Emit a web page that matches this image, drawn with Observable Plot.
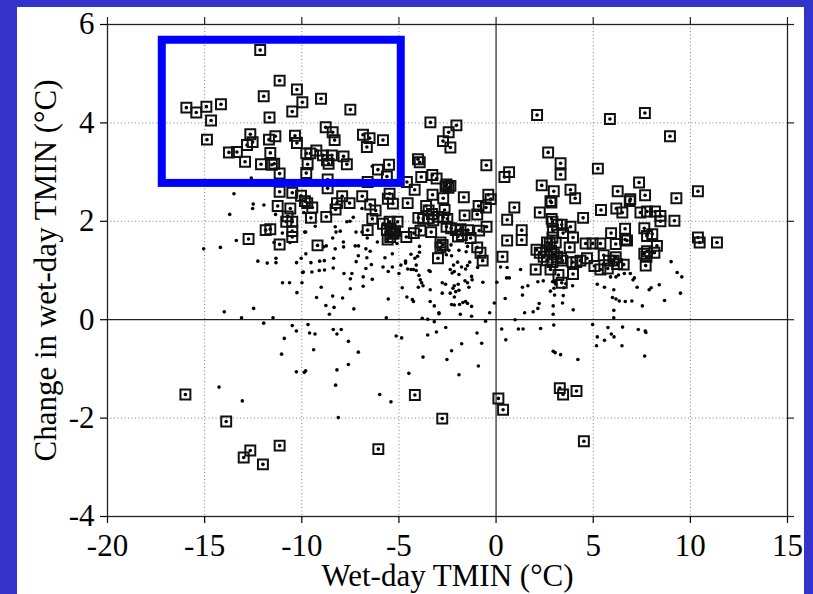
<!DOCTYPE html>
<html>
<head>
<meta charset="utf-8">
<script src="https://cdn.jsdelivr.net/npm/d3@7"></script>
<script src="https://cdn.jsdelivr.net/npm/@observablehq/plot@0.6"></script>
<style>
  html, body { margin: 0; padding: 0; background: #3333cc; overflow: hidden; }
  #panel { position: absolute; left: 17px; top: 7px; width: 787px; height: 587px; background: #ffffff; }
  #panel svg text { font-family: 'Liberation Serif', 'Times New Roman', serif; }
</style>
</head>
<body>
<div id="panel"></div>
<script>
// Axis ticks
const xTicks = [-20, -15, -10, -5, 0, 5, 10, 15];
const yTicks = [-4, -2, 0, 2, 4, 6];
const xGrid = [-15, -10, -5, 5, 10];
const yGrid = [-2, 2, 4];

// Highlight box (data units)
const boxBounds = [{x1: -17.18, x2: -4.88, y1: 2.77, y2: 5.68}];

// Stations flagged with a square [wet-day TMIN, change in wet-day TMIN]
const flagged = [
[-12.14,5.48],[-15.94,4.31],[-15.43,4.21],[-14.91,4.33],[-14.16,4.38],[-14.67,4.05],[-14.88,3.66],[-11.14,4.86],[-11.96,4.54],[-10.25,4.68],
[-9.97,4.42],[-10.49,4.23],[-11.66,4.11],[-9.01,4.49],[-7.5,4.27],[-12.65,3.77],[-12.53,3.61],[-12.82,3.55],[-11.69,3.66],[-11.36,3.73],
[-10.35,3.74],[-10.25,3.59],[-13.75,3.40],[-13.34,3.41],[-12.92,3.21],[-11.62,3.39],[-12.10,3.16],[-11.54,3.15],[-11.42,3.17],[-11.14,2.97],
[-9.77,3.38],[-9.56,3.38],[-9.25,3.44],[-9.70,3.16],[-9.77,2.98],[-8.77,3.91],[-8.41,3.81],[-8.31,3.65],[-8.91,3.34],[-8.70,3.24],
[-8.45,3.34],[-8.62,3.17],[-7.85,3.32],[-7.68,3.16],[-6.85,3.76],[-6.51,3.69],[-6.65,3.51],[-5.82,3.65],[-6.08,3.05],[-5.51,3.15],[-5.62,2.91],
[-8.67,2.85],[-11.14,2.60],[-10.49,2.58],[-10.04,2.52],[-9.84,2.41],[-7.92,2.51],[-7.54,2.37],[-8.19,2.37],[-8.26,2.24],[-6.89,2.51],
[-8.67,2.67],[-11.24,2.31],[-10.59,2.26],[-9.46,2.28],[-9.53,2.07],[-8.74,2.09],[-10.73,2.10],[-10.80,1.99],[-11.86,1.82],[-11.62,1.84],
[-10.49,1.99],[-10.49,1.80],[-10.49,1.68],[-11.14,1.53],[-12.74,1.64],[-9.19,1.51],[-6.61,1.82],[-6.48,2.34],[-6.20,2.22],[-6.37,2.05],
[-5.82,1.95],[-5.62,1.82],[-5.48,1.99],[-5.07,1.99],[-5.27,1.75],[-5.58,1.63],[-5.48,2.56],[-5.57,2.46],[-5.31,2.36],[-4.55,2.37],
[-4.59,2.80],[-4.62,1.68],[-6.61,2.80],
[-4.02,3.26],[-3.85,2.90],[-3.28,2.94],[-3.06,2.87],[-2.6,2.71],[-2.45,2.68],[-2.55,2.75],[-2.35,2.72],[-4.19,2.64],[-3.27,2.54],
[-2.72,2.47],[-1.66,2.49],[-0.40,2.54],[-0.28,2.45],[-0.52,2.28],[-0.90,2.31],[-0.97,2.14],[-1.62,2.12],[-2.65,2.23],[-3.6,2.31],
[-3.47,2.22],[-3.3,2.15],[-4.0,2.07],[-3.75,2.05],[-3.47,2.06],[-3.23,2.02],[-3.0,2.09],[-2.72,2.08],[-2.51,2.05],[-2.55,1.89],
[-2.31,1.86],[-2.07,1.82],[-1.83,1.84],[-1.45,1.82],[-0.87,1.81],[-0.49,1.89],[-1.96,1.69],[-1.76,1.72],[-1.31,1.66],[-0.97,1.47],
[-0.80,1.36],[-0.69,1.2],[-3.34,1.78],[-3.89,1.81],[-4.23,1.76],[-2.86,1.57],[-2.86,1.47],[-2.99,1.25],[-2.75,1.52],[-9.72,2.37],
[-5.43,1.85],[-5.35,1.75],[-5.2,1.8],[-5.45,1.68],
[-3.38,4.01],[-2.04,3.95],[-2.44,3.81],[-2.73,3.63],[-2.35,3.50],[-3.93,3.2],[-0.5,3.14],[2.11,4.16],[5.86,4.08],[7.66,4.2],
[8.95,3.73],[2.68,3.40],[3.32,3.18],[3.32,2.95],[5.24,3.07],[0.67,3.0],[0.43,2.9],
[2.35,2.73],[2.97,2.61],[3.83,2.64],[4.07,2.47],[2.80,2.41],[2.85,2.38],[2.25,2.18],[0.94,2.28],[0.57,2.03],[2.86,2.05],
[2.90,1.99],[2.93,1.81],[3.14,1.93],[3.38,1.93],[3.45,1.76],[3.83,1.89],[3.96,1.67],[3.79,1.47],[4.48,2.07],[2.9,1.67],
[2.62,1.57],[2.76,1.55],[3.07,1.57],[2.59,1.41],[2.83,1.40],[2.97,1.33],[3.14,1.28],[2.25,1.36],[2.45,1.28],[2.62,1.21],
[2.90,1.17],[2.08,1.42],[2.04,1.02],[3.34,1.25],[3.41,1.2],[3.93,1.17],[4.13,1.17],[3.96,0.93],[3.38,0.75],[3.21,0.91],
[2.8,1.02],[4.34,1.2],[4.68,1.25],[4.61,1.55],[4.97,1.55],[5.37,1.55],[5.06,1.09],[5.37,1.02],[5.75,1.04],[5.54,1.31],
[5.81,1.2],[6.16,1.27],[6.05,1.2],[6.23,1.13],[6.57,1.12],[5.92,1.76],[6.16,1.54],[6.64,1.63],[6.74,1.61],[6.64,1.85],
[5.40,2.23],[6.19,2.26],[6.5,2.18],[6.26,2.61],[6.91,2.45],[6.88,2.41],[7.36,2.79],[7.67,2.53],[7.43,2.18],[7.77,2.2],
[7.63,1.86],[7.77,1.70],[7.63,1.34],[7.74,1.28],[7.70,1.10],[0.33,1.28],[0.57,1.61],[1.32,1.82],[1.32,1.62],
[9.28,2.47],[10.39,2.61],[8.18,2.2],[8.46,2.11],[8.46,2.0],[9.18,2.01],[8.04,1.74],[10.39,1.67],[10.48,1.57],[11.37,1.57],
[8.28,1.5],[8.15,1.36],[7.77,1.39],
[-15.99,-1.52],[-13.89,-2.07],[-12.99,-2.80],[-12.65,-2.66],[-12.0,-2.94],[-11.14,-2.56],[-6.06,-2.63],[-4.18,-1.53],[-2.77,-2.01],
[0.12,-1.60],[0.36,-1.83],[3.28,-1.39],[3.45,-1.52],[4.14,-1.45],[4.52,-2.47]
];

// Other stations (plain markers)
const others = [
[-12.60,2.88],[-13.49,2.56],[-12.50,2.35],[-12.53,2.26],[-11.95,2.33],[-13.71,2.14],[-11.35,2.14],[-15.05,1.44],[-14.19,1.47],[-13.37,1.61],
[-11.0,1.76],[-11.43,1.57],[-10.61,1.57],[-12.26,1.19],[-11.78,1.15],[-11.33,1.25],[-11.33,1.16],[-10.27,1.16],[-10.03,1.25],[-9.79,1.34],
[-9.96,0.96],[-10.99,0.75],[-10.63,0.75],[-9.99,0.75],[-9.8,1.78],[-9.9,2.18],[-6.37,3.12],
[-9.53,1.16],[-9.08,1.19],[-8.84,1.20],[-8.36,1.25],[-7.85,1.48],[-7.68,1.99],[-8.02,1.80],[-8.88,1.48],[-8.74,1.50],[-7.5,0.63],
[-7.2,1.18],[-6.65,1.26],[-6.48,1.39],[-6.37,0.82],[-7.5,0.83],[-7.09,1.30],
[-9.85,1.78],[-9.31,1.90],[-8.28,1.89],[-8.24,1.78],[-7.52,2.0],[-7.35,2.08],[-6.9,2.26],[-7.86,1.58],[-8.41,1.66],[-8.28,1.44],
[-7.25,1.50],[-7.08,1.50],[-6.7,1.44],[-6.63,1.66],[-7.21,1.78],[-6.9,1.78],[-6.11,1.58],[-6.42,1.12],[-6.7,1.04],
[-6.84,0.87],[-6.84,0.68],[-7.42,0.94],[-7.83,0.94],[-8.38,1.05],[-8.83,1.01],[-9.1,1.0],[-9.48,0.97],[-9.92,0.97],[-9.0,0.66],[-9.24,0.45],
[-8.41,0.48],[-7.9,0.44],[-8.76,0.29],[-8.34,0.25],[-8.58,0.11],[-7.32,0.22],[-9.68,-0.10],[-8.38,-0.2],[-7.97,-0.2],
[-13.99,0.16],[-13.1,0.04],[-12.48,0.23],[-11.96,-0.07],[-11.48,0.04],[-10.49,-0.12],[-10.28,-0.23],[-10.9,-0.38],[-9.6,-0.27],[-9.32,-0.29],
[-9.39,-0.61],[-11.04,-0.70],[-10.28,-1.06],[-9.87,-1.07],[-9.8,-1.04],[-10.25,0.55],[-8.19,-0.29],[-7.6,-0.44],[-7.09,-0.66],[-7.6,-0.91],
[-8.19,-1.02],[-8.26,-1.33],[-8.12,-1.99],[-14.26,-1.37],[-13.06,-1.65],[-5.14,-0.33],[-4.86,-0.37],[-4.49,-1.09],[-5.99,-1.52],[-5.41,-1.67],
[-3.07,-0.25],[-3.52,-0.31],[-2.59,-0.16],[-0.98,-0.27],[-0.74,-0.48],[-1.77,-0.49],[-2.29,-0.63],[-2.53,-0.81],[-3.76,-0.76],[-1.91,-1.12],
[-0.91,-0.94],[0.29,-0.19],[0.5,-0.41],[1.15,-0.19],[1.39,-0.19],[2.29,-0.18],[2.97,-0.11],
[2.94,-0.64],[3.04,-0.67],[3.32,-0.71],[4.21,-0.81],[4.97,-0.10],[5.21,-0.35],[5.17,-0.53],[5.58,-0.42],[5.76,-0.16],[5.93,-0.29],
[6.07,-0.35],[6.48,-0.53],[6.51,-0.15],[7.71,-0.26],[7.68,-0.23],[7.65,-0.74],[7.32,-0.2],[7.77,1.72],
[-5.72,1.26],[-5.34,1.34],[-5.82,1.07],[-5.55,0.98],[-5.34,1.07],[-5.10,1.55],[-5.0,0.94],[-4.9,1.11],[-4.66,1.19],[-4.66,1.15],
[-4.38,1.33],[-4.18,1.25],[-3.94,1.49],[-3.94,1.37],[-4.04,1.29],[-4.11,1.11],[-4.38,1.02],[-4.25,1.02],[-4.11,1.0],[-4.55,1.03],
[-3.97,0.90],[-3.90,0.81],[-3.83,0.75],[-4.0,0.66],[-3.76,0.69],[-3.45,1.0],[-3.39,0.98],[-3.39,0.61],[-4.83,0.65],[-5.55,0.42],
[-4.59,0.46],[-4.31,0.41],[-4.25,0.37],[-3.39,0.37],[-3.18,0.28],[-2.94,0.14],[-3.8,0.03],[-3.52,0.01],[-3.18,-0.04],[-5.65,0.04],
[-2.74,1.37],[-2.43,1.41],[-2.56,1.32],[-2.29,1.30],[-2.32,1.52],[-1.98,1.17],[-2.19,1.11],[-2.15,0.98],[-1.91,0.92],[-2.26,0.95],
[-2.36,1.02],[-1.78,1.07],[-1.57,1.03],[-1.47,1.10],[-1.36,1.17],[-1.91,1.41],[-2.77,0.75],[-2.6,0.72],[-2.15,0.69],[-1.95,0.72],
[-2.22,0.64],[-2.08,0.57],[-1.91,0.60],[-1.60,0.79],[-1.26,0.88],[-1.23,0.81],[-1.47,0.75],[-1.40,0.66],[-0.68,0.76],[-2.77,0.54],
[-2.36,0.54],[-2.15,0.46],[-2.29,0.31],[-2.15,0.30],[-1.88,0.31],[-1.71,0.35],[-1.57,0.37],[-1.47,0.33],[-1.26,0.27],[-2.94,0.12],
[-1.84,0.11],[-1.26,0.07],[-0.54,-0.03],[-0.33,0.14],[-0.09,0.34],[0.04,0.76],[-0.88,1.29],[-0.95,1.06],[-1.47,1.49],[-1.54,1.38],
[0.23,1.07],[0.57,1.06],[0.54,0.85],[0.68,0.85],[1.26,1.02],[0.47,0.43],[1.36,0.66],[1.64,0.69],[1.36,0.50],[2.15,0.77],
[2.43,0.79],[2.8,0.58],[2.91,0.77],[2.98,0.64],[3.01,0.76],[3.08,0.72],[3.49,0.65],[3.59,0.73],[3.94,0.69],[3.01,0.50],
[3.46,0.49],[3.42,0.34],[2.22,0.33],[2.15,0.23],[1.91,0.16],[1.47,0.14],[2.94,0.28],[2.94,0.11],[3.97,0.20],[5.21,0.72],
[5.58,0.66],[6.06,0.61],[5.99,0.45],[6.17,0.42],[6.34,0.38],[6.65,0.37],[6.99,0.38],[6.06,0.19],[6.06,0.04],[5.89,0.87],
[6.17,0.87],[6.30,0.91],[6.6,0.94],[6.91,0.94],[7.05,0.81],[7.12,0.85],[7.26,0.66],[7.53,0.28],[7.88,0.61],[7.98,0.65],
[8.40,0.71],[8.67,0.39],[9.01,1.18],[9.32,0.96],[9.56,0.87],[9.49,0.54],[0.98,0.0]
];

const xLabel = "Wet-day TMIN (°C)";
const yLabel = "Change in wet-day TMIN (°C)";

const font = "'Liberation Serif', 'Times New Roman', serif";
const allPoints = others.concat(flagged);
const xMax = 15, yMax = 6;

const chart = Plot.plot({
  width: 787,
  height: 587,
  marginLeft: 90,
  marginRight: 17,
  marginTop: 17,
  marginBottom: 78,
  style: {fontFamily: font, fontSize: "31px", background: "white", color: "black"},
  x: {domain: [-20, 15]},
  y: {domain: [-4, 6]},
  marks: [
    Plot.gridX(xGrid, {stroke: "#808080", strokeOpacity: 1, strokeDasharray: "1,2.5", strokeWidth: 1}),
    Plot.gridY(yGrid, {stroke: "#808080", strokeOpacity: 1, strokeDasharray: "1,2.5", strokeWidth: 1}),
    Plot.ruleX([0], {stroke: "#222", strokeWidth: 1.2}),
    Plot.ruleY([0], {stroke: "#222", strokeWidth: 1.2}),
    Plot.frame({stroke: "#222", strokeWidth: 1.3}),
    Plot.axisX(xTicks, {anchor: "bottom", tickSize: 7, tickPadding: 10, tickFormat: d => String(d), fontSize: 31, fontFamily: font, label: null, strokeWidth: 1.2}),
    Plot.axisY(yTicks, {anchor: "left", tickSize: 7, tickPadding: 6, tickFormat: d => String(d), fontSize: 31, fontFamily: font, label: null, strokeWidth: 1.2}),
    // outward tick marks on the top and right edges (no labels)
    Plot.ruleX(xTicks, {x: d => d, y1: yMax, y2: yMax, insetTop: -7, stroke: "#222", strokeWidth: 1.2}),
    Plot.ruleY(yTicks, {y: d => d, x1: xMax, x2: xMax, insetRight: -7, stroke: "#222", strokeWidth: 1.2}),
    Plot.dot(allPoints, {x: d => d[0], y: d => d[1], r: 1.8, fill: "black", stroke: "none"}),
    Plot.dot(flagged, {x: d => d[0], y: d => d[1], symbol: "square", r: 5.6, stroke: "#111", strokeWidth: 2, fill: "none"}),
    Plot.rect(boxBounds, {x1: "x1", x2: "x2", y1: "y1", y2: "y2", stroke: "#0000ff", strokeWidth: 8, fill: "none"}),
    Plot.text([xLabel], {text: d => d, frameAnchor: "bottom", lineAnchor: "top", dy: 47, fontSize: 31, fontFamily: font, fill: "black"}),
    Plot.text([yLabel], {text: d => d, frameAnchor: "left", lineAnchor: "top", textAnchor: "middle", rotate: -90, dx: -74, fontSize: 31, fontFamily: font, fill: "black"})
  ]
});

document.getElementById("panel").appendChild(chart);
</script>
</body>
</html>
